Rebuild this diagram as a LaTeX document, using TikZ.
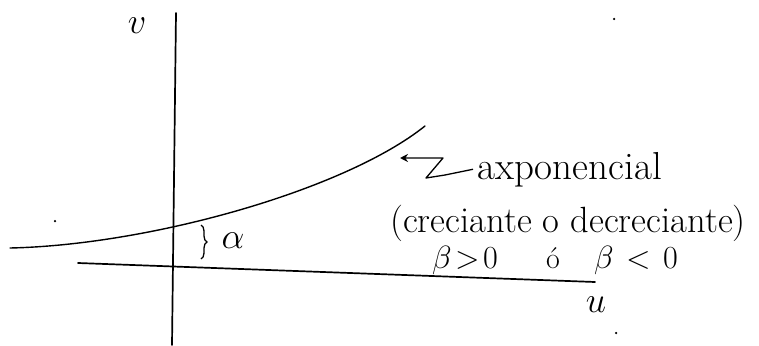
\documentclass[tikz,border=0pt]{standalone}
\usetikzlibrary{decorations.pathreplacing,arrows.meta}
\begin{document}
\begin{tikzpicture}[x=1pt,y=-1pt,
  axis/.style={line width=1.7pt,line cap=round},
  curveline/.style={line width=1.4pt,line cap=round},
  hand/.style={inner sep=0pt,font=\fontsize{39}{41}\selectfont},
  handmid/.style={inner sep=0pt,font=\fontsize{36.5}{38}\selectfont},
  mathlab/.style={inner sep=0pt,font=\fontsize{20}{22}\selectfont,scale=1.75},
  betalab/.style={inner sep=0pt,font=\fontsize{20}{22}\selectfont,scale=1.55},
  speck/.style={fill=black,inner sep=0pt,minimum size=2.5pt,circle}]
\useasboundingbox (0,0) rectangle (759,345);
% axes
\coordinate (vtop) at (176,13);
\coordinate (vbot) at (172,345);
\coordinate (hleft) at (78,263);
\coordinate (hright) at (595,282);
\draw[axis] (vtop) -- (vbot);
\draw[axis] (hleft) -- (hright);
% curve
\coordinate (cstart) at (10,248);
\coordinate (cend) at (425,126);
\draw[curveline] (cstart) .. controls (150,245) and (345,190) .. (cend);
% axis labels
\node[mathlab] (vlab) at (137,26) {$v$};
\node[mathlab] (ulab) at (596,305) {$u$};
% alpha
\draw[line width=1.3pt,decorate,decoration={brace,amplitude=6pt}] (201,225) -- (201,259);
\node[mathlab] (alph) at (233,241) {$\alpha$};
% texts
\node[hand,anchor=base west] (exp) at (477,179) {axponencial};
\node[handmid,anchor=base] (crec) at (568,232) {(creciante o decreciante)};
\node[betalab,anchor=base] (b1) at (465,268) {$\beta\mkern-3mu>\mkern-3mu0$};
\node[inner sep=0pt,font=\fontsize{30}{32}\selectfont,anchor=base] (oo) at (553,268) {ó};
\node[betalab,anchor=base] (b2) at (636,268) {$\beta\mkern2mu<\mkern2mu0$};
% arrow with zigzag
\coordinate (tip) at (400,158);
\draw[line width=1.3pt,-{Stealth[length=8pt,width=8pt]},line join=round]
  ([xshift=-4pt]exp.west) -- (445,175) -- (426,178) -- (443,158) -- (tip);
% specks
\node[speck] (d1) at (55,221) {};
\node[speck] (d2) at (614,19) {};
\node[speck] (d3) at (616,333) {};
\end{tikzpicture}
\end{document}
